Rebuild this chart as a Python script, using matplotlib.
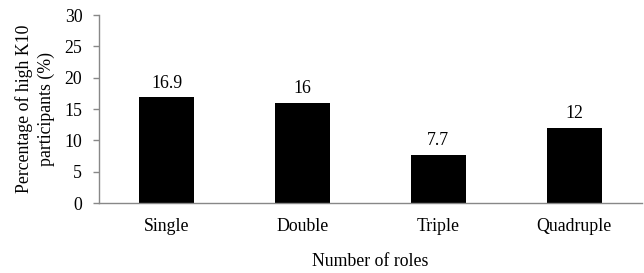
import matplotlib
matplotlib.use("Agg")
import matplotlib.pyplot as plt

categories = ["Single", "Double", "Triple", "Quadruple"]
values = [16.9, 16, 7.7, 12]
value_labels = ["16.9", "16", "7.7", "12"]
yticks = [0, 5, 10, 15, 20, 25, 30]

plt.rcParams['font.family'] = ['Liberation Serif', 'DejaVu Serif']
FS = 12.8

fig = plt.figure(figsize=(6.44, 2.73), dpi=100)
ax = fig.add_axes([99/644, 1-203/273, 543/644, 188/273])

x = list(range(len(categories)))
bars = ax.bar(x, values, width=0.405, color='black', zorder=2)
for xi, v, lab in zip(x, values, value_labels):
    ax.annotate(lab, (xi, v), xytext=(0, 4), textcoords='offset points',
                ha='center', va='bottom', fontsize=FS)

ax.set_xlim(-0.5, 3.5)
ax.set_ylim(0, 30)
ax.set_yticks(yticks)
ax.set_yticklabels([str(t) for t in yticks], fontsize=FS)
ax.set_xticks(x)
ax.set_xticklabels(categories, fontsize=FS)
ax.tick_params(axis='x', length=0, pad=11)
ax.tick_params(axis='y', length=4, color='#888888', width=1, pad=8)

for s in ['top', 'right']:
    ax.spines[s].set_visible(False)
for s in ['left', 'bottom']:
    ax.spines[s].set_color('#888888')
    ax.spines[s].set_linewidth(1)

ax.set_ylabel("Percentage of high K10\nparticipants (%)", fontsize=FS, labelpad=7, linespacing=1.3)
ax.set_xlabel("Number of roles", fontsize=FS, labelpad=13)

fig.savefig("out.png", dpi=100)
